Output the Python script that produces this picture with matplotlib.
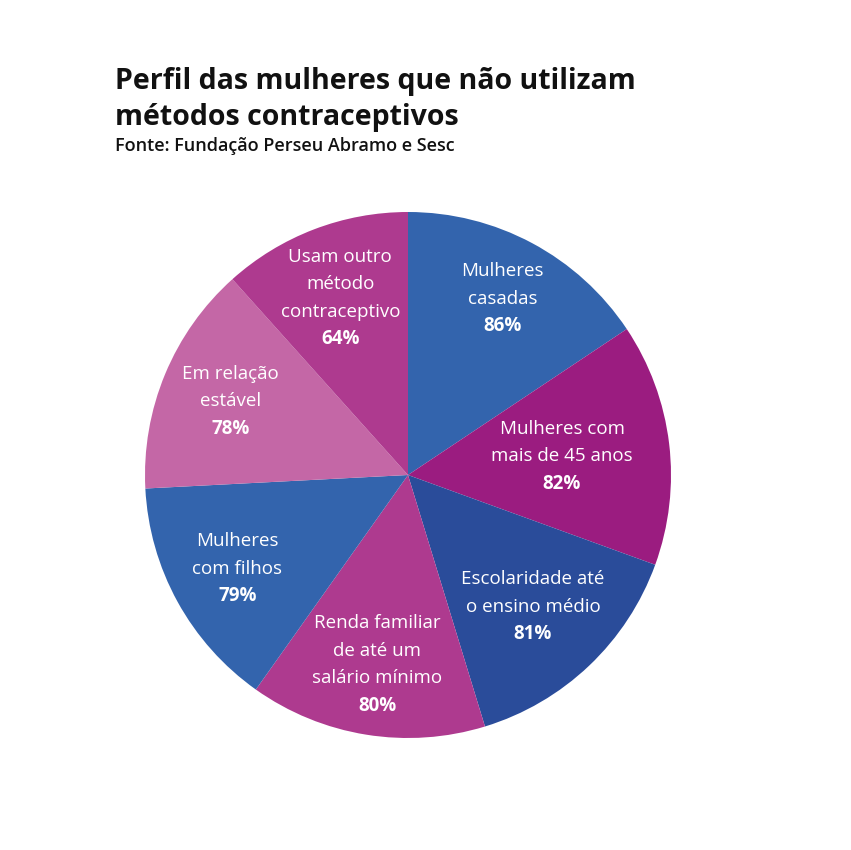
import numpy as np
import matplotlib
matplotlib.use("Agg")
import matplotlib.pyplot as plt

plt.rcParams['font.family'] = ['Open Sans', 'DejaVu Sans']

categories = [
    "Mulheres\ncasadas",
    "Mulheres com\nmais de 45 anos",
    "Escolaridade até\no ensino médio",
    "Renda familiar\nde até um\nsalário mínimo",
    "Mulheres\ncom filhos",
    "Em relação\nestável",
    "Usam outro\nmétodo\ncontraceptivo",
]
values = [86, 82, 81, 80, 79, 78, 64]
colors = ["#3364AD", "#9B1C80", "#2A4C9A", "#AE3A8F", "#3364AD", "#C467A6", "#AE3A8F"]
# radial position of each label, as a fraction of the radius
label_r = [0.76, 0.59, 0.69, 0.73, 0.74, 0.73, 0.72]

fig = plt.figure(figsize=(8.51, 8.5), dpi=100)
ax = fig.add_axes([145 / 851, 112 / 850, 526 / 851, 526 / 850])

wedges, _ = ax.pie(values, colors=colors, startangle=90, counterclock=False,
                   radius=1, wedgeprops=dict(linewidth=0))
ax.set_xlim(-1, 1)
ax.set_ylim(-1, 1)
ax.set_aspect('equal')
ax.axis('off')

line_h = 27.5
for w, name, val, r in zip(wedges, categories, values, label_r):
    ang = np.deg2rad((w.theta1 + w.theta2) / 2)
    x, y = r * np.cos(ang), r * np.sin(ang)
    lines = name.split("\n")
    n = len(lines) + 1
    for i, ln in enumerate(lines):
        dy = ((n - 1) / 2 - i) * line_h
        ax.annotate(ln, (x, y), xytext=(0, dy), textcoords='offset pixels',
                    ha='center', va='center', color='white', fontsize=13.5)
    dy = ((n - 1) / 2 - (n - 1)) * line_h
    ax.annotate(f"{val}%", (x, y), xytext=(0, dy), textcoords='offset pixels',
                ha='center', va='center', color='white', fontsize=13.5, fontweight='bold')

fig.text(115 / 851, 1 - 81 / 850, "Perfil das mulheres que não utilizam",
         fontsize=20.5, fontweight='bold', color='#111111', va='center', ha='left')
fig.text(115 / 851, 1 - 117 / 850, "métodos contraceptivos",
         fontsize=20.5, fontweight='bold', color='#111111', va='center', ha='left')
fig.text(115 / 851, 1 - 146 / 850, "Fonte: Fundação Perseu Abramo e Sesc",
         fontsize=13, fontweight='semibold', color='#111111', va='center', ha='left')

fig.savefig("out.png", dpi=100, facecolor='white')
